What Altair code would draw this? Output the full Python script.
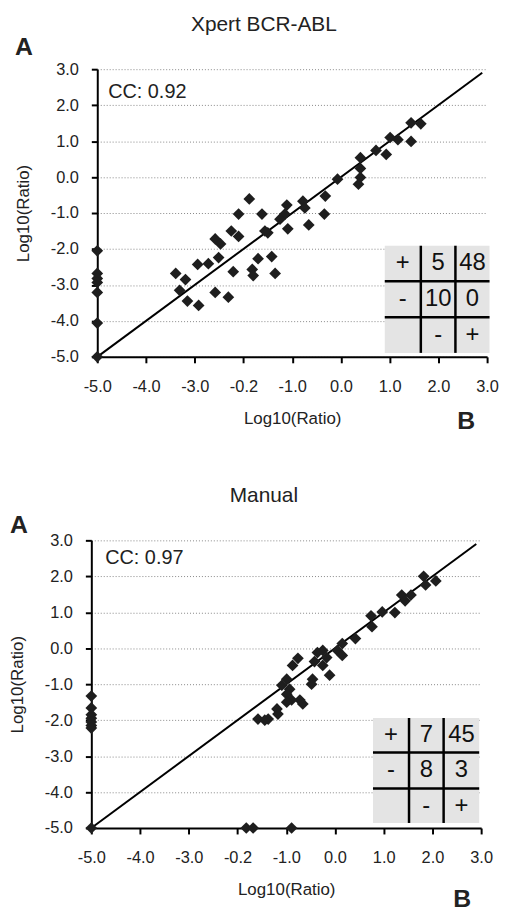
import altair as alt
import pandas as pd

# ---------------- data ----------------
xpert_x = [-5.0, -5.0, -5.0, -5.0, -5.0, -5.0, -5.0,
           1.44, 1.64, 1.44, 1.01, 1.17, 0.72, 0.93, 0.40, 0.40, 0.40, 0.36, -0.07,
           -0.32, -0.34, -0.78, -0.74, -0.66, -1.11, -1.15, -1.25, -1.09, -1.50, -1.56,
           -1.88, -1.62, -2.10, -2.10, -2.25, -2.58, -2.47, -2.51, -2.72, -2.94,
           -2.21, -1.82, -1.80, -1.70, -1.42, -1.35, -3.39, -3.19, -3.31, -3.15, -2.92, -2.58, -2.31]
xpert_y = [-2.05, -2.68, -2.82, -2.93, -3.21, -4.06, -5.0,
           1.51, 1.48, 0.99, 1.10, 1.04, 0.74, 0.63, 0.54, 0.24, -0.01, -0.20, -0.06,
           -0.53, -1.03, -0.67, -0.86, -1.33, -0.78, -1.03, -1.17, -1.44, -1.55, -1.50,
           -0.61, -1.03, -1.03, -1.65, -1.50, -1.72, -1.86, -2.24, -2.41, -2.43,
           -2.63, -2.57, -2.74, -2.27, -2.21, -2.68, -2.68, -2.85, -3.15, -3.45, -3.57, -3.21, -3.34]

manual_x = [-5.0, -5.0, -5.0, -5.0, -5.0, -5.0, -5.0, -5.0,
            -1.82, -1.68, -0.89,
            1.82, 2.07, 1.86, 1.37, 1.56, 1.44, 1.23, 0.97, 0.74, 0.76,
            0.42, 0.15, 0.05, 0.15, -0.25, -0.36, -0.17, -0.42, -0.25, -0.11,
            -0.76, -0.87, -0.46, -0.48, -0.99, -1.09, -0.93, -0.99, -0.89, -0.99,
            -0.66, -0.72, -1.19, -1.17, -1.37, -1.58, -1.44]
manual_y = [-1.33, -1.66, -1.85, -1.95, -2.05, -2.15, -2.22, -5.0,
            -5.0, -5.0, -5.0,
            2.00, 1.87, 1.76, 1.48, 1.48, 1.32, 0.99, 1.01, 0.90, 0.60,
            0.27, 0.13, -0.06, -0.20, -0.06, -0.12, -0.26, -0.37, -0.48, -0.75,
            -0.28, -0.48, -0.86, -1.00, -0.86, -1.03, -1.14, -1.28, -1.44, -1.50,
            -1.55, -1.44, -1.69, -1.83, -1.97, -1.97, -2.00]

x_ticks = [-5, -4, -3, -2, -1, 0, 1, 2, 3]
x_tick_labels = ["-5.0", "-4.0", "-3.0", "-0.2", "-1.0", "0.0", "1.0", "2.0", "3.0"]
y_ticks = [-5, -4, -3, -2, -1, 0, 1, 2, 3]
y_tick_labels = ["-5.0", "-4.0", "-3.0", "-2.0", "-1.0", "0.0", "1.0", "2.0", "3.0"]

xpert_table = [["+", "5", "48"], ["-", "10", "0"], ["", "-", "+"]]
manual_table = [["+", "7", "45"], ["-", "8", "3"], ["", "-", "+"]]

xpert_cc = "CC: 0.92"
manual_cc = "CC: 0.97"
xpert_title = "Xpert BCR-ABL"
manual_title = "Manual"
axis_title = "Log10(Ratio)"
identity_line = [-5.0, 2.9]

# ---------------- style ----------------
FONT = "Liberation Sans"
INK = "#1e1e1e"


def label_expr(vals, labels):
    expr = "''"
    for v, l in reversed(list(zip(vals, labels))):
        expr = f"datum.value == {v} ? '{l}' : ({expr})"
    return expr


def panel(xs, ys, table, cc, title, tx_edges, ty_edges, cc_pos, a_pos, b_pos,
          title_pos, width, xrange):
    xscale = alt.Scale(domain=[-5, 3], nice=False, zero=False, range=xrange)
    yscale = alt.Scale(domain=[-5, 3], nice=False, zero=False)
    xaxis = alt.Axis(values=x_ticks, labelExpr=label_expr(x_ticks, x_tick_labels),
                     title=axis_title, grid=False, labelOverlap=False, labelFlush=False,
                     labelPadding=16, titlePadding=16)
    yaxis = alt.Axis(values=y_ticks, labelExpr=label_expr(y_ticks, y_tick_labels),
                     title=axis_title, grid=True, gridDash=[1, 2], gridColor="#888888",
                     gridWidth=1, labelOverlap=False, labelPadding=13, titlePadding=18)
    X = lambda f: alt.X(f, type="quantitative", scale=xscale, axis=xaxis)
    Y = lambda f: alt.Y(f, type="quantitative", scale=yscale, axis=yaxis)

    pts = pd.DataFrame({"x": xs, "y": ys})
    points = alt.Chart(pts).mark_point(shape="diamond", filled=True, size=140,
                                       color=INK, opacity=1, clip=False).encode(
        x=X("x"), y=Y("y"))

    line_df = pd.DataFrame({"x": identity_line, "y": identity_line})
    line = alt.Chart(line_df).mark_line(color="#000", strokeWidth=2).encode(
        x=X("x"), y=Y("y"))

    box_df = pd.DataFrame({"x": [tx_edges[0]], "x2": [tx_edges[3]],
                           "y": [ty_edges[0]], "y2": [ty_edges[3]]})
    box = alt.Chart(box_df).mark_rect(color="#e4e4e4").encode(
        x=X("x"), x2="x2", y=Y("y"), y2="y2")

    rules_df = pd.DataFrame({
        "x": [tx_edges[1], tx_edges[2], tx_edges[0], tx_edges[0]],
        "x2": [tx_edges[1], tx_edges[2], tx_edges[3], tx_edges[3]],
        "y": [ty_edges[0], ty_edges[0], ty_edges[1], ty_edges[2]],
        "y2": [ty_edges[3], ty_edges[3], ty_edges[1], ty_edges[2]],
    })
    rules = alt.Chart(rules_df).mark_rule(color="#000", strokeWidth=2.5).encode(
        x=X("x"), x2="x2", y=Y("y"), y2="y2")

    cells = []
    for r, row in enumerate(table):
        for c, t in enumerate(row):
            cells.append({"x": (tx_edges[c] + tx_edges[c + 1]) / 2,
                          "y": (ty_edges[r] + ty_edges[r + 1]) / 2, "t": t})
    cell_text = alt.Chart(pd.DataFrame(cells)).mark_text(
        font=FONT, fontSize=24, color="#111", align="center", baseline="middle").encode(
        x=X("x"), y=Y("y"), text="t:N")

    one = pd.DataFrame({"k": [0]})

    def label(txt, pos, size, weight="normal", align="center"):
        return alt.Chart(one).mark_text(font=FONT, fontSize=size, fontWeight=weight,
                                        color="#222", align=align, baseline="middle").encode(
            x=alt.value(pos[0]), y=alt.value(pos[1]), text=alt.value(txt))

    cc_text = label(cc, cc_pos, 20, align="left")
    a_text = label("A", a_pos, 25, "bold")
    b_text = label("B", b_pos, 25, "bold")
    t_text = label(title, title_pos, 21)

    return alt.layer(box, rules, cell_text, line, points, cc_text, a_text, b_text,
                     t_text).properties(width=width, height=290)


top = panel(xpert_x, xpert_y, xpert_table, xpert_cc, xpert_title,
            [0.90, 1.64, 2.35, 3.05], [-1.91, -2.90, -3.90, -4.89],
            (11, 23), (-74, -22), (372, 355), (168, -45), 393, [0, 393])
bottom = panel(manual_x, manual_y, manual_table, manual_cc, manual_title,
               [0.78, 1.52, 2.23, 2.96], [-1.94, -2.90, -3.90, -4.86],
               (14, 18), (-73, -15), (374, 362), (174, -45), 405, [0, 393])

chart = alt.vconcat(top, bottom, spacing=185, bounds="flush", center=True).properties(
    padding={"left": 0, "top": 2, "right": 0, "bottom": -3}
).configure_view(stroke=None).configure_axis(
    domainColor="#000", domainWidth=2, tickColor="#000", tickWidth=2, tickSize=6,
    labelFont=FONT, labelFontSize=16.5, labelColor="#222",
    titleFont=FONT, titleFontSize=17, titleFontWeight="normal", titleColor="#222"
)

chart.save("out.html", embed_options={"renderer": "svg", "actions": False})
